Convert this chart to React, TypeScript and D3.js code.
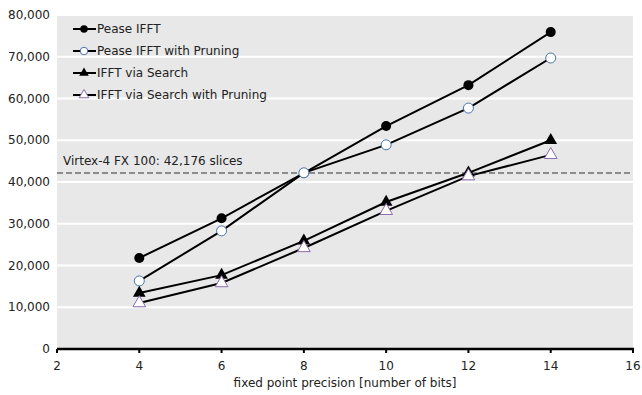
import * as d3 from "d3";

const bits = [4, 6, 8, 10, 12, 14];
const peaseIfft = [21800, 31300, 42150, 53400, 63200, 75900];
const peasePruning = [16300, 28300, 42200, 48900, 57700, 69700];
const searchIfft = [13400, 17700, 25900, 35200, 42200, 50000];
const searchPruning = [11000, 15800, 24200, 33100, 41400, 46500];
const seriesNames = [
  "Pease IFFT",
  "Pease IFFT with Pruning",
  "IFFT via Search",
  "IFFT via Search with Pruning",
];
const xTicks = [2, 4, 6, 8, 10, 12, 14, 16];
const yTicks = [0, 10000, 20000, 30000, 40000, 50000, 60000, 70000, 80000];
const deviceLimit = 42176;

const W = 642;
const H = 395;
const m = { l: 57, r: 9, t: 15, b: 46 };
const font = "DejaVu Sans, Verdana, sans-serif";

type Marker = "dot" | "ring" | "tri" | "otri";
const series: { name: string; values: number[]; marker: Marker }[] = [
  { name: seriesNames[0], values: peaseIfft, marker: "dot" },
  { name: seriesNames[1], values: peasePruning, marker: "ring" },
  { name: seriesNames[2], values: searchIfft, marker: "tri" },
  { name: seriesNames[3], values: searchPruning, marker: "otri" },
];

function MarkerShape({ kind, x, y, s = 1 }: { kind: Marker; x: number; y: number; s?: number }) {
  const tri = d3.symbol(d3.symbolTriangle, 70 * s * s)() || "";
  if (kind === "dot") return <circle cx={x} cy={y} r={5 * s} fill="#000" />;
  if (kind === "ring")
    return <circle cx={x} cy={y} r={5 * s} fill="#fff" stroke="#4a74aa" strokeWidth={1} />;
  if (kind === "tri") return <path d={tri} transform={`translate(${x},${y})`} fill="#000" />;
  return (
    <path d={tri} transform={`translate(${x},${y})`} fill="#fff" stroke="#8a6bb0" strokeWidth={1} />
  );
}

export default function App() {
  const x = d3.scaleLinear().domain([2, 16]).range([m.l, W - m.r]);
  const y = d3.scaleLinear().domain([0, 80000]).range([H - m.b, m.t]);
  const line = d3
    .line<number>()
    .x((_, i) => x(bits[i]))
    .y((d) => y(d));
  const fmt = d3.format(",");

  return (
    <svg
      width={W}
      height={H}
      style={{ position: "absolute", left: 0, top: 0, background: "#fff" }}
      fontFamily={font}
    >
      <rect x={m.l} y={m.t} width={W - m.r - m.l} height={H - m.b - m.t} fill="#e8e8e8" />
      {yTicks.map((t) => (
        <g key={t}>
          {t > 0 && (
            <line x1={m.l} x2={W - m.r} y1={y(t)} y2={y(t)} stroke="#fff" strokeWidth={2} />
          )}
          <text x={50} y={y(t)} dy="0.35em" textAnchor="end" fontSize={12} fill="#222">
            {fmt(t)}
          </text>
        </g>
      ))}
      <line
        x1={m.l}
        x2={W - m.r}
        y1={y(deviceLimit)}
        y2={y(deviceLimit)}
        stroke="#8c8c8c"
        strokeWidth={2}
        strokeDasharray="6,3"
      />
      <text x={63} y={y(deviceLimit) - 8} fontSize={12} fill="#222">
        Virtex-4 FX 100: 42,176 slices
      </text>
      {series.map((s) => (
        <g key={s.name}>
          <path d={line(s.values) || ""} fill="none" stroke="#000" strokeWidth={2} />
          {s.values.map((v, i) => (
            <MarkerShape key={i} kind={s.marker} x={x(bits[i])} y={y(v)} />
          ))}
        </g>
      ))}
      <line x1={m.l} x2={W - m.r + 1} y1={y(0)} y2={y(0)} stroke="#000" strokeWidth={2.5} />
      {xTicks.map((t) => (
        <g key={t}>
          <line x1={x(t)} x2={x(t)} y1={y(0)} y2={y(0) + 4} stroke="#000" strokeWidth={2} />
          <text x={x(t)} y={y(0) + 21} textAnchor="middle" fontSize={12} fill="#222">
            {t}
          </text>
        </g>
      ))}
      <text x={(m.l + W - m.r) / 2} y={H - 8} textAnchor="middle" fontSize={12} fill="#222">
        fixed point precision [number of bits]
      </text>
      {series.map((s, i) => {
        const ly = 29 + i * 22;
        return (
          <g key={s.name}>
            <line x1={73} x2={96} y1={ly} y2={ly} stroke="#000" strokeWidth={2} />
            <MarkerShape kind={s.marker} x={84} y={ly} s={0.75} />
            <text x={97} y={ly} dy="0.35em" fontSize={12} fill="#222">
              {s.name}
            </text>
          </g>
        );
      })}
    </svg>
  );
}
